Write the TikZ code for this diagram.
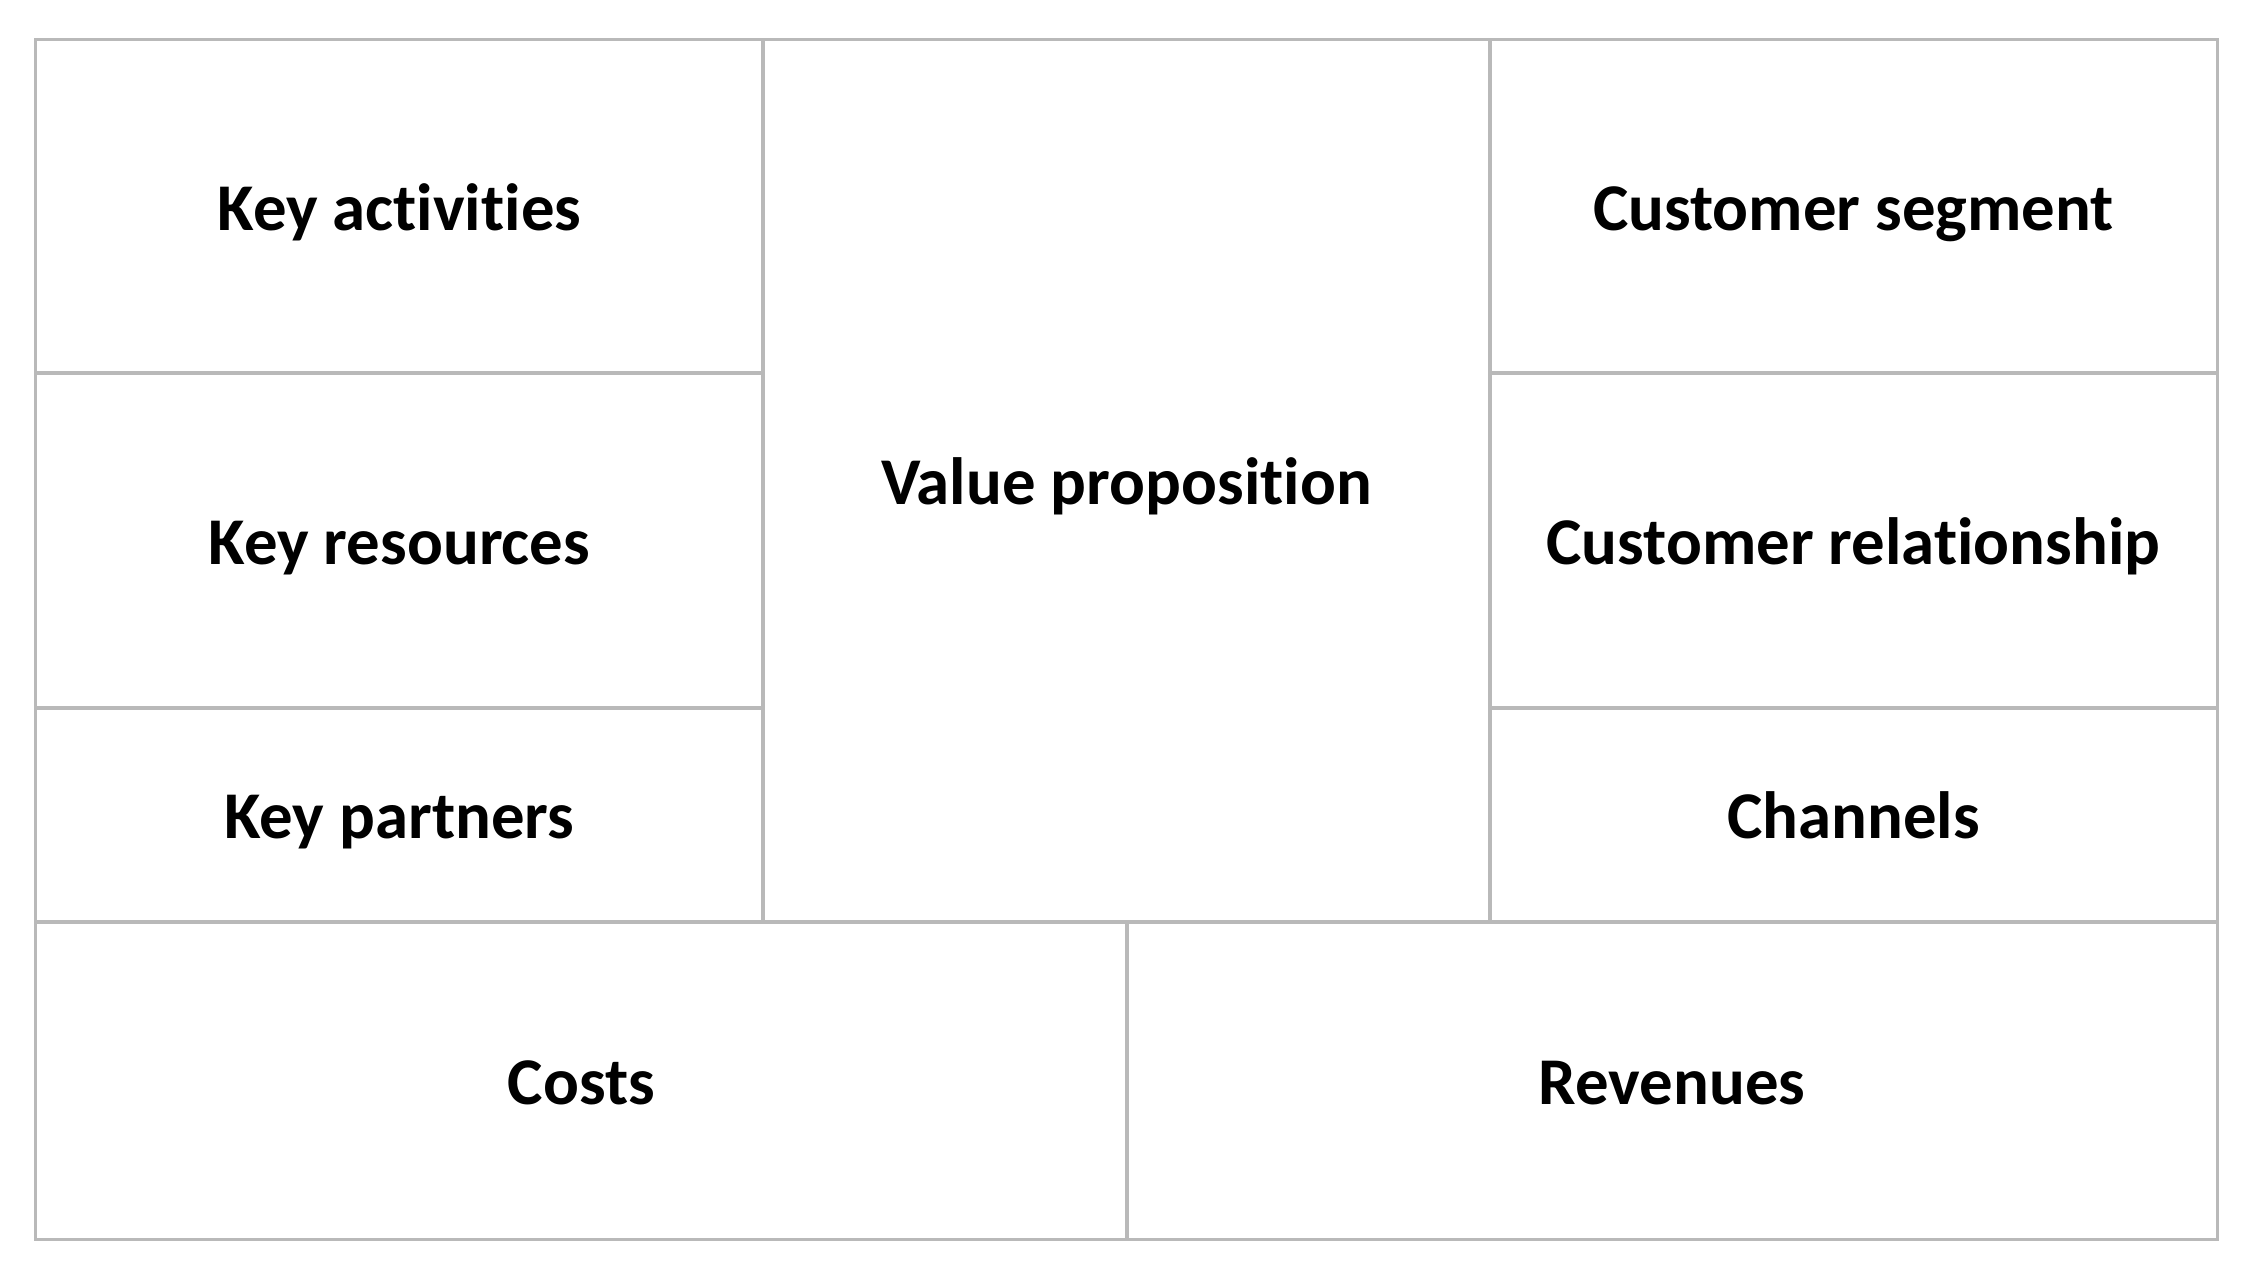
\documentclass[tikz,border=0pt]{standalone}
\usepackage{fontspec}
\setmainfont{Carlito}[Ligatures=NoCommon]
\begin{document}
\begin{tikzpicture}[x=0.01cm,y=-0.01cm,
    cell/.style={draw=gray!55,line width=0.85pt,inner sep=0pt,
      text height=17pt,text depth=3.4pt,
      font=\fontsize{19}{23}\selectfont\bfseries}]
  \useasboundingbox (0,0) rectangle (2250,1275);
  % left column
  \node[cell,minimum width=7.27cm,minimum height=3.33cm] (act) at (399.5,206.5) {Key activities};
  \node[cell,minimum width=7.27cm,minimum height=3.35cm] (res) at (399.5,540.5) {Key resources};
  \node[cell,minimum width=7.27cm,minimum height=2.14cm] (par) at (399.5,815) {Key partners};
  % middle
  \node[cell,minimum width=7.27cm,minimum height=8.82cm] (val) at (1126.5,481) {Value proposition};
  % right column
  \node[cell,minimum width=7.27cm,minimum height=3.33cm] (seg) at (1853.5,206.5) {Customer segment};
  \node[cell,minimum width=7.27cm,minimum height=3.35cm] (rel) at (1853.5,540.5) {Customer relationship};
  \node[cell,minimum width=7.27cm,minimum height=2.14cm] (cha) at (1853.5,815) {Channels};
  % bottom row
  \node[cell,minimum width=10.91cm,minimum height=3.17cm] (cos) at (581.5,1080.5) {Costs};
  \node[cell,minimum width=10.90cm,minimum height=3.17cm] (rev) at (1672,1080.5) {Revenues};
\end{tikzpicture}
\end{document}
